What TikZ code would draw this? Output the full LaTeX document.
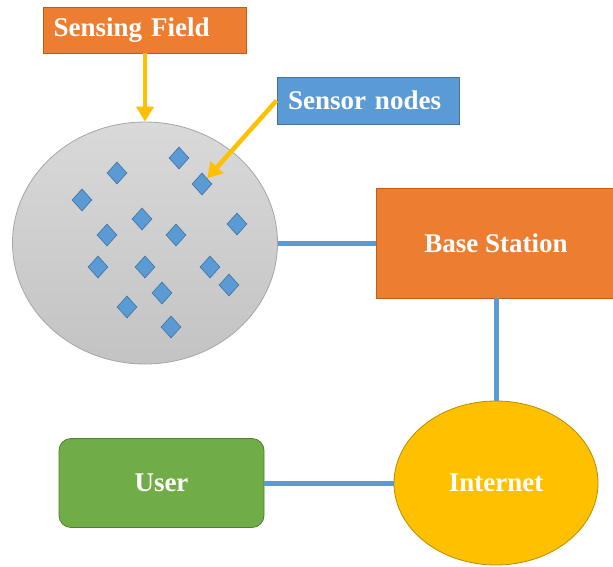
\documentclass[tikz,border=0pt]{standalone}
\usepackage{fontspec}
\setmainfont{Liberation Serif}
\usetikzlibrary{shapes.geometric,arrows.meta}
\definecolor{orangeF}{HTML}{ED7D31}
\definecolor{orangeB}{HTML}{C55A11}
\definecolor{blueF}{HTML}{5B9BD5}
\definecolor{blueB}{HTML}{41719C}
\definecolor{greenF}{HTML}{70AD47}
\definecolor{greenB}{HTML}{507E32}
\definecolor{goldF}{HTML}{FFC000}
\definecolor{goldB}{HTML}{BC8C00}
\definecolor{fieldTop}{HTML}{D9D9D9}
\definecolor{fieldBot}{HTML}{C3C3C3}
\definecolor{fieldB}{HTML}{A6A6A6}
\tikzset{
  lbl/.style={text=white, font=\bfseries\fontsize{27}{32}\selectfont, inner sep=0pt},
  orangebox/.style={lbl, rectangle, fill=orangeF, draw=orangeB, line width=0.8pt},
  bluebox/.style={lbl, rectangle, fill=blueF, draw=blueB, line width=0.8pt},
  sensor/.style={diamond, fill=blueF, draw=blueB, line width=0.6pt, inner sep=0pt, minimum width=20pt, minimum height=22pt},
  link/.style={draw=blueF, line width=5pt},
  goldarrow/.style={draw=goldF, line width=4.5pt, -{Triangle[width=17pt,length=15pt]}},
}
\begin{document}
\begin{tikzpicture}[x=1pt,y=-1pt]
\useasboundingbox (0,0) rectangle (613,566);
\clip (0,0) rectangle (613,566);
% sensing field
\node[ellipse, top color=fieldTop, bottom color=fieldBot, draw=fieldB, line width=0.8pt,
      minimum width=265pt, minimum height=242pt, inner sep=0pt] (field) at (145,243) {};
% sensors
\node[sensor] (s1) at (179,158) {};
\node[sensor] (s2) at (117,173) {};
\node[sensor] (s3) at (202,184) {};
\node[sensor] (s4) at (82,200) {};
\node[sensor] (s5) at (142,219) {};
\node[sensor] (s6) at (237,224) {};
\node[sensor] (s7) at (107,235) {};
\node[sensor] (s8) at (176,235) {};
\node[sensor] (s9) at (98,267) {};
\node[sensor] (s10) at (145,267) {};
\node[sensor] (s11) at (210,267) {};
\node[sensor] (s12) at (229,285) {};
\node[sensor] (s13) at (162,293) {};
\node[sensor] (s14) at (127,307) {};
\node[sensor] (s15) at (171,327) {};
% labels
\node[orangebox, minimum width=203pt, minimum height=46pt, text width=183pt, align=left] (sf) at (145,30) {Sensing Field};
\node[bluebox, minimum width=182pt, minimum height=47pt, text width=160pt, align=left] (sn) at (368,100.5) {Sensor nodes};
% base station
\node[orangebox, minimum width=240pt, minimum height=110pt] (bs) at (496,243) {Base Station};
% user
\node[lbl, rectangle, rounded corners=12pt, fill=greenF, draw=greenB, line width=0.8pt,
      minimum width=205pt, minimum height=89pt] (user) at (161.5,483) {User};
% internet
\node[lbl, ellipse, fill=goldF, draw=goldB, line width=0.8pt,
      minimum width=204pt, minimum height=164pt] (inet) at (496,483) {Internet};
% connectors
\draw[goldarrow] (sf.south) -- (field.north);
\draw[goldarrow] (sn.west) -- (s3.north east);
\draw[link] (field.east) -- (bs.west);
\draw[link] (bs.south) -- (inet.north);
\draw[link] (user.east) -- (inet.west);
\end{tikzpicture}
\end{document}
